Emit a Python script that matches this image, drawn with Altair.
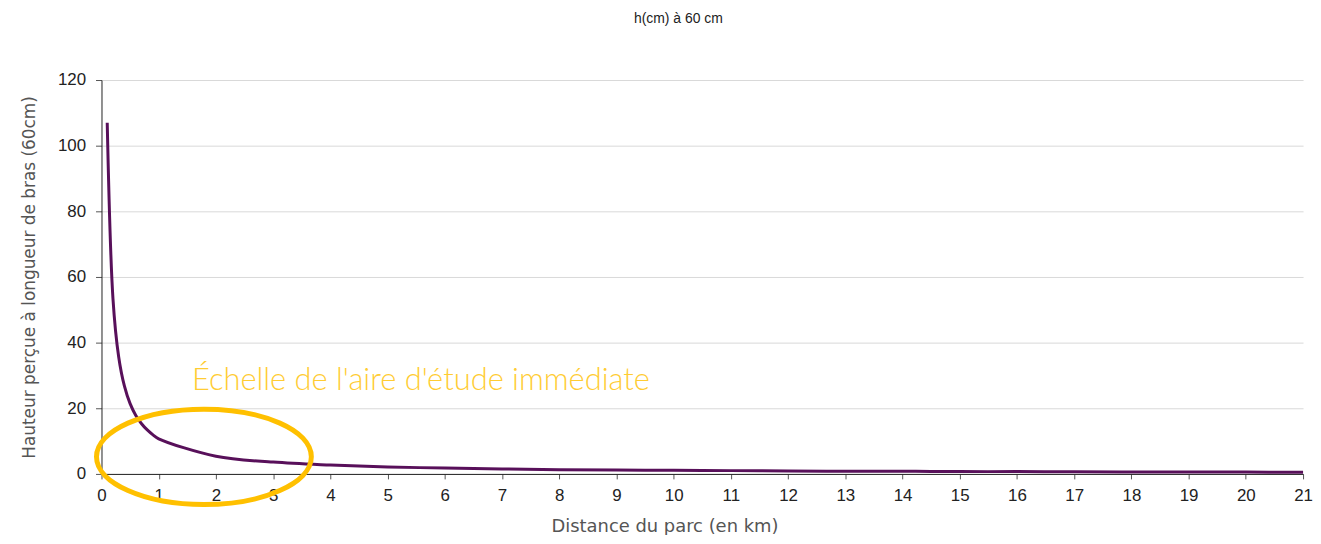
import altair as alt
import pandas as pd

# Distance du parc (km) and perceived height (cm)
distance_km = [0.1, 0.2, 0.3, 0.4, 0.5, 0.6, 0.7, 0.8, 0.9, 1,
               2, 3, 4, 5, 6, 7, 8, 9, 10, 11, 12, 13, 14, 15, 16, 17, 18, 19, 20, 21]
hauteur_cm = [107, 53.5, 35.7, 26.8, 21.4, 17.8, 15.3, 13.4, 11.9, 10.7,
              5.4, 3.6, 2.7, 2.1, 1.8, 1.5, 1.3, 1.2, 1.1, 1.0, 0.9, 0.8, 0.8, 0.7, 0.7, 0.65, 0.6, 0.6, 0.55, 0.5]

x_ticks = list(range(0, 22))
y_ticks = [0, 20, 40, 60, 80, 100, 120]

annot_text = ["Échelle de l'aire d'étude immédiate"]
annot_x = [1.58]
annot_y = [28.2]

ellipse_x = [1.79]
ellipse_y = [5.2]

df = pd.DataFrame({"d": distance_km, "h": hauteur_cm})
df_text = pd.DataFrame({"x": annot_x, "y": annot_y, "t": annot_text})
df_ell = pd.DataFrame({"x": ellipse_x, "y": ellipse_y})

xscale = alt.Scale(domain=[0, 21], nice=False, zero=True)
yscale = alt.Scale(domain=[0, 120], nice=False)

line = alt.Chart(df).mark_line(color="#58105a", strokeWidth=3, clip=False,
                               interpolate="catmull-rom").encode(
    x=alt.X("d:Q", scale=xscale,
            axis=alt.Axis(title="Distance du parc (en km)", values=x_ticks, format="d", grid=False,
                          tickSize=5, labelPadding=9, labelFontSize=17, labelColor="#222222",
                          labelFont="Liberation Sans", domainColor="#222222", tickColor="#555555",
                          titleFont="DejaVu Sans", titleFontWeight="normal", titleFontSize=18,
                          titleColor="#555555", titleX=566, titleY=53, titleBaseline="middle",
                          labelOverlap=False, labelFlush=False)),
    y=alt.Y("h:Q", scale=yscale,
            axis=alt.Axis(title="Hauteur perçue à longueur de bras (60cm)", values=y_ticks,
                          grid=True, gridColor="#d9d9d9", gridWidth=1,
                          tickSize=6, labelPadding=10, labelFontSize=17, labelColor="#222222",
                          labelFont="Liberation Sans", domainColor="#222222", tickColor="#555555",
                          titleFont="DejaVu Sans", titleFontWeight="normal", titleFontSize=17,
                          titleColor="#555555", titleX=-72, titleY=198, titleAngle=-90,
                          titleBaseline="middle", titleAlign="center")),
)

ellipse = alt.Chart(df_ell).mark_point(
    shape="M -1 0 A 1 0.444 0 1 1 1 0 A 1 0.444 0 1 1 -1 0",
    size=46656, filled=False, stroke="#FFC000", strokeWidth=5, opacity=1, clip=False
).encode(x=alt.X("x:Q", scale=xscale), y=alt.Y("y:Q", scale=yscale))

text = alt.Chart(df_text).mark_text(
    align="left", baseline="middle", font="Lato", fontWeight=300, fontSize=31,
    color="#FFCC33", clip=False
).encode(x=alt.X("x:Q", scale=xscale), y=alt.Y("y:Q", scale=yscale), text="t:N")

chart = alt.layer(line, ellipse, text).properties(
    width=1208, height=396,
    padding={"left": 94, "top": 71, "right": 10, "bottom": 60},
    autosize=alt.AutoSizeParams(type="none"),
    title=alt.Title("h(cm) à 60 cm", fontSize=14, font="Liberation Sans", fontWeight="normal",
                    color="#222222", offset=45, dx=-24),
).configure_view(stroke=None)

chart.save("out.html", embed_options={"renderer": "svg", "actions": False})
